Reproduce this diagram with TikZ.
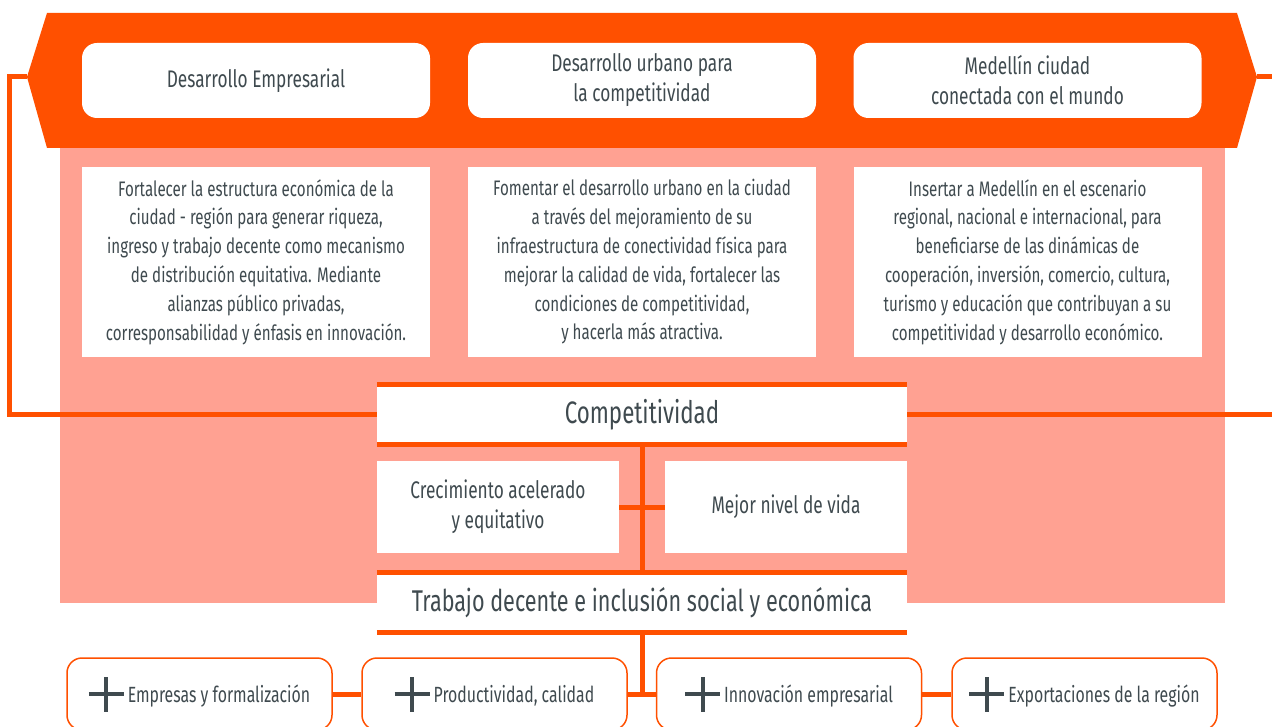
\documentclass[tikz,border=0pt]{standalone}
\usepackage{fontspec}
\setmainfont{Fira Sans}[FakeStretch=0.72]
\definecolor{org}{HTML}{FF5000}
\definecolor{sal}{HTML}{FFA192}
\definecolor{txt}{HTML}{3F4A4F}
\newcommand\myplus{\makebox[35pt][l]{\color{txt}\rule[6pt]{35pt}{4pt}\hspace{-19.5pt}\rule[-9.5pt]{4pt}{35pt}}\hspace{4pt}}
\begin{document}
\begin{tikzpicture}[x=1pt,y=-1pt,
  every node/.style={inner sep=0pt,text=txt},
  tbox/.style={fill=white,rounded corners=15pt,minimum width=348pt,minimum height=75pt,align=center,font=\fontsize{24}{30}\selectfont},
  dbox/.style={fill=white,minimum width=348pt,minimum height=190pt,align=center,font=\fontsize{21}{28.8}\selectfont},
  wide/.style={fill=white,minimum width=530pt,minimum height=55pt,font=\fontsize{31}{36}\selectfont},
  mbox/.style={fill=white,minimum width=242pt,minimum height=92pt,align=center,font=\fontsize{24}{30}\selectfont},
  bbox/.style={draw=org,line width=1.5pt,fill=white,rounded corners=15pt,minimum width=265pt,minimum height=72pt,font=\fontsize{22}{26}\selectfont},
  conn/.style={draw=org,line width=5pt},
  bar/.style={draw=org,line width=5pt}]
\useasboundingbox (0,0) rectangle (1272,727);
\clip (0,0) rectangle (1272,727);
% background panel
\fill[sal] (60,148) rectangle (1225,603);
% banner
\fill[org] (47,13) -- (1237,13) -- (1257,77) -- (1237,148) -- (47,148) -- (27,77) -- cycle;
\coordinate (bl) at (27,77);
\coordinate (br) at (1257,77);
\coordinate (lcorner) at (9.5,77);
\coordinate (rend) at (1272,77);
\coordinate (rend2) at (1272,414.5);
% top boxes
\node[tbox] (t1) at (256,80.5) {Desarrollo Empresarial};
\node[tbox] (t2) at (642,80.5) {Desarrollo urbano para\\la competitividad};
\node[tbox] (t3) at (1027.5,80.5) {Medellín ciudad\\conectada con el mundo};
% descriptions
\node[dbox] (d1) at (256,262) {Fortalecer la estructura económica de la\\ciudad - región para generar riqueza,\\ingreso y trabajo decente como mecanismo\\de distribución equitativa. Mediante\\alianzas público privadas,\\corresponsabilidad y énfasis en innovación.};
\node[dbox] (d2) at (642,262) {Fomentar el desarrollo urbano en la ciudad\\a través del mejoramiento de su\\infraestructura de conectividad física para\\mejorar la calidad de vida, fortalecer las\\condiciones de competitividad,\\y hacerla más atractiva.};
\node[dbox] (d3) at (1027.5,262) {Insertar a Medellín en el escenario\\regional, nacional e internacional, para\\beneficiarse de las dinámicas de\\cooperación, inversión, comercio, cultura,\\turismo y educación que contribuyan a su\\competitividad y desarrollo económico.};
% centre column
\node[wide] (comp) at (642,414.5) {Competitividad};
\node[mbox] (crec) at (498,507) {Crecimiento acelerado\\y equitativo};
\node[mbox] (mejor) at (786,507) {Mejor nivel de vida};
\node[wide,font=\fontsize{30}{36}\selectfont] (trab) at (642,602.5) {Trabajo decente e inclusión social y económica};
% bottom boxes
\node[bbox] (b1) at (199.5,694) {\myplus Empresas y formalización};
\node[bbox] (b2) at (494.5,694) {\myplus Productividad, calidad};
\node[bbox] (b3) at (789,694) {\myplus Innovación empresarial};
\node[bbox] (b4) at (1084.5,694) {\myplus Exportaciones de la región};
% connectors
\draw[conn] (bl) -- (lcorner) |- (comp.west);
\draw[conn] (br) -- (rend);
\draw[conn] (comp.east) -- (rend2);
\draw[conn] (comp.south) -- (trab.north);
\draw[conn] (crec.east) -- (mejor.west);
\draw[conn] (trab.south) -- (trab.south |- b2.east);
\draw[conn] (b2.east) -- (b3.west);
\draw[conn] (b1.east) -- (b2.west);
\draw[conn] (b3.east) -- (b4.west);
% bars
\draw[bar] ([yshift=2.5pt]comp.north west) -- ([yshift=2.5pt]comp.north east);
\draw[bar] ([yshift=-2.5pt]comp.south west) -- ([yshift=-2.5pt]comp.south east);
\draw[bar] ([yshift=2.5pt]trab.north west) -- ([yshift=2.5pt]trab.north east);
\draw[bar] ([yshift=-2.5pt]trab.south west) -- ([yshift=-2.5pt]trab.south east);
\end{tikzpicture}
\end{document}
